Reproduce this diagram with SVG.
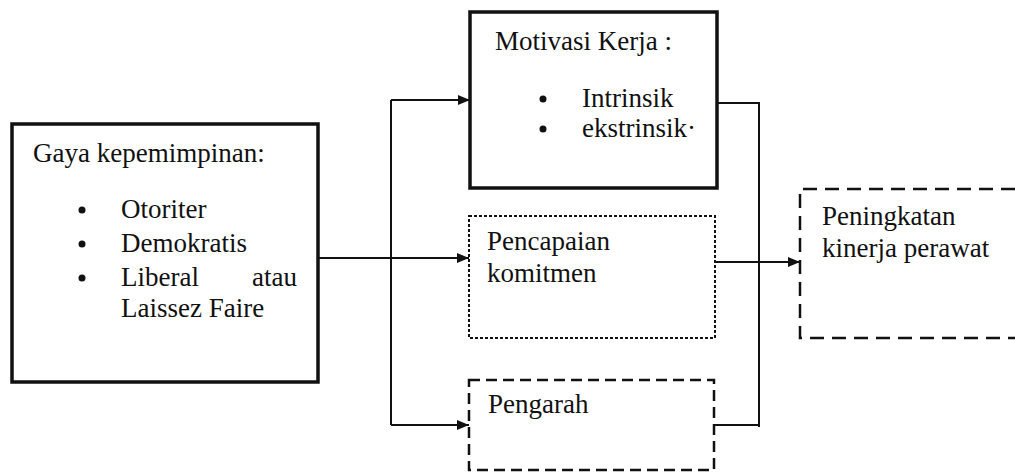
<svg xmlns="http://www.w3.org/2000/svg" width="1015" height="474" viewBox="0 0 1015 474">
<defs>
<style>
text{font-family:'Liberation Serif','DejaVu Serif',serif;font-size:27px;fill:#111}
.solid{fill:#fff;stroke:#111;stroke-width:3.5}
.dot{fill:#fff;stroke:#111;stroke-width:2;stroke-dasharray:3 2}
.dash{fill:#fff;stroke:#111;stroke-width:2.5;stroke-dasharray:11 6}
.dash2{fill:none;stroke:#111;stroke-width:2.5;stroke-dasharray:14 8}
.c{fill:none;stroke:#111;stroke-width:2}
.b{fill:#111}
</style>
<marker id="ah" viewBox="0 0 12 10" refX="12" refY="5" markerWidth="12" markerHeight="10" markerUnits="userSpaceOnUse" orient="auto">
<path d="M0,0 L12,5 L0,10 Z" fill="#111"/>
</marker>
</defs>
<rect width="1015" height="474" fill="#fff"/>
<g id="connectors">
<path class="c" d="M318,258 L469,258" marker-end="url(#ah)"/>
<path class="c" d="M391,100 L391,425"/>
<path class="c" d="M391,100 L470,100" marker-end="url(#ah)"/>
<path class="c" d="M391,425 L469,425" marker-end="url(#ah)"/>
<path class="c" d="M717,103 L759,103 L759,427"/>
<path class="c" d="M715,425 L759,425"/>
<path class="c" d="M715,262 L800,262" marker-end="url(#ah)"/>
</g>
<g id="gaya">
<rect class="solid" x="12" y="124" width="306" height="258"/>
<text x="33" y="162">Gaya kepemimpinan:</text>
<circle class="b" cx="82" cy="210" r="3.5"/>
<text x="121" y="218">Otoriter</text>
<circle class="b" cx="82" cy="244" r="3.5"/>
<text x="121" y="252">Demokratis</text>
<circle class="b" cx="82" cy="278" r="3.5"/>
<text x="121" y="286">Liberal</text>
<text x="297" y="286" text-anchor="end">atau</text>
<text x="121" y="317">Laissez Faire</text>
</g>
<g id="motivasi">
<rect class="solid" x="470" y="12" width="247" height="176"/>
<text x="495" y="50">Motivasi Kerja :</text>
<circle class="b" cx="543" cy="99" r="3.5"/>
<text x="582" y="107">Intrinsik</text>
<circle class="b" cx="543" cy="129" r="3.5"/>
<text x="582" y="137">ekstrinsik·</text>
</g>
<g id="pencapaian">
<rect class="dot" x="469" y="216" width="246" height="122"/>
<text x="487" y="250">Pencapaian</text>
<text x="487" y="282">komitmen</text>
</g>
<g id="pengarah">
<rect class="dash" x="469" y="380" width="245" height="90"/>
<text x="488" y="413">Pengarah</text>
</g>
<g id="peningkatan">
<path class="dash2" d="M1015,189 L800,189 L800,338 L1015,338"/>
<text x="822" y="225">Peningkatan</text>
<text x="822" y="257">kinerja perawat</text>
</g>
</svg>
